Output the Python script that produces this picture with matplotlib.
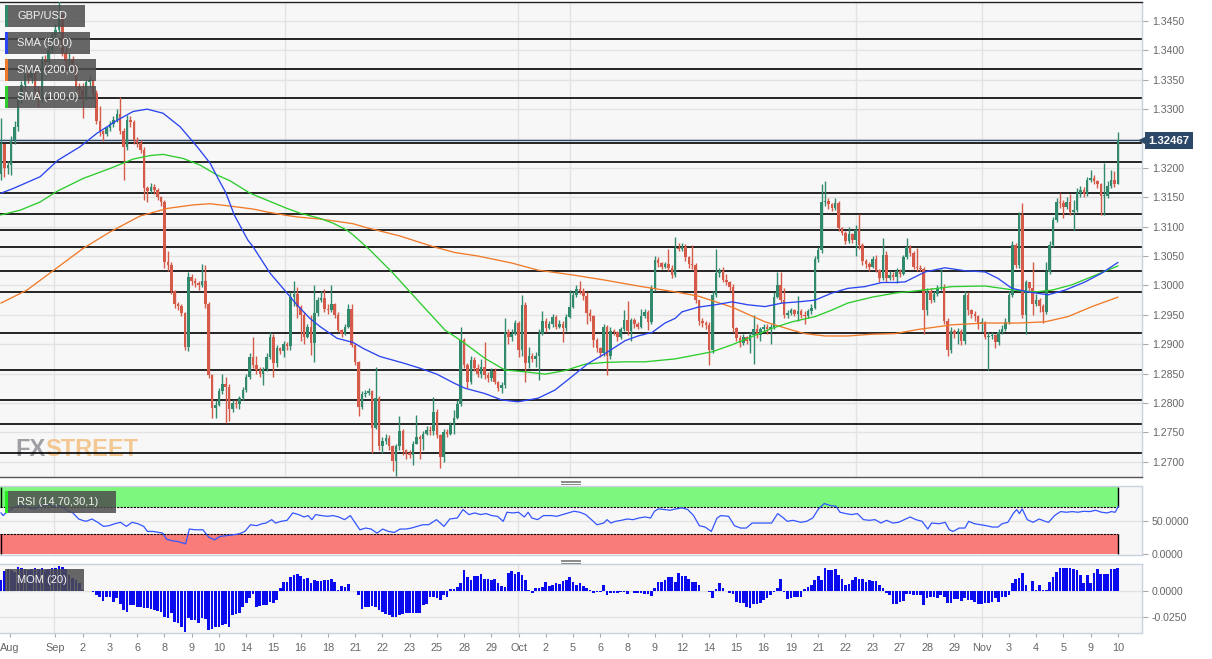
import matplotlib
matplotlib.use('Agg')
import matplotlib.pyplot as plt
import numpy as np
from matplotlib.patches import Rectangle
from matplotlib.lines import Line2D

plt.rcParams['font.family'] = ['Liberation Sans', 'DejaVu Sans']

# ---------------- data ----------------
first_open = 1.3190
closes = [1.3240, 1.3200, 1.3205, 1.3247, 1.3270, 1.3316, 1.3341, 1.3360, 1.3353, 1.3365,
          1.3330, 1.3318, 1.3384, 1.3380, 1.3400, 1.3426, 1.3435, 1.3460, 1.3396, 1.3382,
          1.3386, 1.3374, 1.3338, 1.3332, 1.3319, 1.3346, 1.3350, 1.3328, 1.3280, 1.3262,
          1.3258, 1.3268, 1.3275, 1.3282, 1.3292, 1.3262, 1.3235, 1.3282, 1.3278, 1.3248,
          1.3243, 1.3230, 1.3166, 1.3160, 1.3168, 1.3163, 1.3150, 1.3142, 1.3040, 1.3035,
          1.2990, 1.2968, 1.2965, 1.2953, 1.2896, 1.3015, 1.3008, 1.3004, 1.3000, 1.3008,
          1.2968, 1.2848, 1.2791, 1.2797, 1.2820, 1.2833, 1.2828, 1.2790, 1.2800, 1.2798,
          1.2808, 1.2822, 1.2845, 1.2878, 1.2865, 1.2856, 1.2850, 1.2858, 1.2878, 1.2912,
          1.2868, 1.2893, 1.2888, 1.2900, 1.2897, 1.2981, 1.2985, 1.2964, 1.2950, 1.2912,
          1.2930, 1.2902, 1.2953, 1.2975, 1.2978, 1.2960, 1.2958, 1.2968, 1.2950, 1.2924,
          1.2918, 1.2930, 1.2960, 1.2899, 1.2870, 1.2793, 1.2815, 1.2817, 1.2820, 1.2757,
          1.2808, 1.2726, 1.2736, 1.2740, 1.2726, 1.2702, 1.2726, 1.2752, 1.2720, 1.2715,
          1.2712, 1.2730, 1.2742, 1.2738, 1.2748, 1.2754, 1.2752, 1.2785, 1.2745, 1.2708,
          1.2750, 1.2748, 1.2762, 1.2775, 1.2798, 1.2907, 1.2865, 1.2836, 1.2873, 1.2860,
          1.2850, 1.2862, 1.2848, 1.2842, 1.2855, 1.2836, 1.2826, 1.2830, 1.2921, 1.2912,
          1.2918, 1.2936, 1.2890, 1.2967, 1.2868, 1.2880, 1.2875, 1.2880, 1.2918, 1.2940,
          1.2928, 1.2935, 1.2946, 1.2930, 1.2935, 1.2928, 1.2947, 1.2964, 1.2984, 1.2994,
          1.2990, 1.2982, 1.2953, 1.2948, 1.2907, 1.2893, 1.2885, 1.2929, 1.2880, 1.2922,
          1.2920, 1.2912, 1.2926, 1.2941, 1.2922, 1.2941, 1.2935, 1.2930, 1.2948, 1.2954,
          1.2937, 1.2995, 1.3043, 1.3038, 1.3032, 1.3036, 1.3030, 1.3018, 1.3064, 1.3062,
          1.3066, 1.3048, 1.3036, 1.3034, 1.2975, 1.2940, 1.2936, 1.2932, 1.2890, 1.2984,
          1.3021, 1.3025, 1.3010, 1.3005, 1.2998, 1.2928, 1.2910, 1.2902, 1.2912, 1.2905,
          1.2916, 1.2925, 1.2915, 1.2925, 1.2930, 1.2926, 1.2929, 1.2980, 1.3000, 1.2976,
          1.2950, 1.2953, 1.2958, 1.2952, 1.2957, 1.2950, 1.2948, 1.2956, 1.2962, 1.3045,
          1.3060, 1.3142, 1.3144, 1.3138, 1.3132, 1.3140, 1.3098, 1.3090, 1.3076, 1.3088,
          1.3078, 1.3094, 1.3069, 1.3042, 1.3036, 1.3032, 1.3045, 1.3026, 1.3013, 1.3052,
          1.3013, 1.3018, 1.3015, 1.3024, 1.3020, 1.3048, 1.3066, 1.3055, 1.3032, 1.3030,
          1.3028, 1.2958, 1.2990, 1.2975, 1.2985, 1.2995, 1.2998, 1.2940, 1.2890, 1.2922,
          1.2918, 1.2922, 1.2905, 1.2984, 1.2958, 1.2952, 1.2948, 1.2935, 1.2938, 1.2912,
          1.2914, 1.2915, 1.2903, 1.2920, 1.2926, 1.2938, 1.2984, 1.3069, 1.3035, 1.3120,
          1.2950, 1.3005, 1.2995, 1.2968, 1.2975, 1.2965, 1.2955, 1.3023, 1.3069, 1.3111,
          1.3142, 1.3140, 1.3134, 1.3142, 1.3125, 1.3128, 1.3158, 1.3162, 1.3155, 1.3180,
          1.3182, 1.3178, 1.3172, 1.3152, 1.3152, 1.3170, 1.3180, 1.3173, 1.32467]
highs = [1.3285, 1.3235, 1.3212, 1.3255, 1.3280, 1.3322, 1.3348, 1.3372, 1.3368, 1.3370,
         1.3368, 1.3340, 1.3390, 1.3392, 1.3410, 1.3432, 1.3445, 1.3484, 1.3462, 1.3405,
         1.3395, 1.3390, 1.3378, 1.3345, 1.3345, 1.3352, 1.3358, 1.3352, 1.3332, 1.3305,
         1.3265, 1.3272, 1.3280, 1.3288, 1.3300, 1.3320, 1.3268, 1.3290, 1.3288, 1.3282,
         1.3252, 1.3248, 1.3235, 1.3170, 1.3174, 1.3172, 1.3166, 1.3152, 1.3145, 1.3058,
         1.3040, 1.2992, 1.2972, 1.2968, 1.2955, 1.3022, 1.3020, 1.3012, 1.3008, 1.3036,
         1.3035, 1.2972, 1.2850, 1.2805, 1.2826, 1.2850, 1.2845, 1.2832, 1.2805, 1.2805,
         1.2812, 1.2828, 1.2850, 1.2885, 1.2912, 1.2880, 1.2862, 1.2862, 1.2885, 1.2921,
         1.2918, 1.2898, 1.2896, 1.2906, 1.2904, 1.2988, 1.3008, 1.2998, 1.2966, 1.2955,
         1.2935, 1.2950, 1.3001, 1.2980, 1.2990, 1.2994, 1.2968, 1.3001, 1.2970, 1.2955,
         1.2926, 1.2935, 1.2968, 1.2969, 1.2902, 1.2872, 1.2820, 1.2822, 1.2826, 1.2822,
         1.2862, 1.2812, 1.2742, 1.2748, 1.2745, 1.2728, 1.2730, 1.2777, 1.2756, 1.2722,
         1.2720, 1.2736, 1.2779, 1.2745, 1.2752, 1.2760, 1.2760, 1.2810, 1.2790, 1.2748,
         1.2755, 1.2755, 1.2768, 1.2788, 1.2805, 1.2930, 1.2910, 1.2868, 1.2880, 1.2878,
         1.2866, 1.2875, 1.2904, 1.2852, 1.2860, 1.2860, 1.2838, 1.2835, 1.2944, 1.2926,
         1.2925, 1.2942, 1.2940, 1.2984, 1.2972, 1.2895, 1.2885, 1.2886, 1.2925, 1.2956,
         1.2945, 1.2940, 1.2952, 1.2950, 1.2942, 1.2940, 1.2952, 1.2992, 1.2990, 1.3000,
         1.3008, 1.2995, 1.2988, 1.2960, 1.2950, 1.2910, 1.2895, 1.2935, 1.2932, 1.2930,
         1.2926, 1.2922, 1.2930, 1.2958, 1.2973, 1.2945, 1.2945, 1.2938, 1.2960, 1.2960,
         1.2958, 1.3000, 1.3050, 1.3048, 1.3040, 1.3040, 1.3062, 1.3035, 1.3083, 1.3072,
         1.3072, 1.3070, 1.3050, 1.3068, 1.3038, 1.2975, 1.2945, 1.2940, 1.2938, 1.2990,
         1.3062, 1.3030, 1.3032, 1.3020, 1.3008, 1.3002, 1.2930, 1.2915, 1.2918, 1.2914,
         1.2920, 1.2950, 1.2935, 1.2930, 1.2935, 1.2935, 1.2935, 1.2988, 1.3022, 1.3022,
         1.2995, 1.2958, 1.2962, 1.2960, 1.2982, 1.2960, 1.2956, 1.2960, 1.2968, 1.3050,
         1.3065, 1.3172, 1.3178, 1.3148, 1.3140, 1.3148, 1.3143, 1.3100, 1.3092, 1.3100,
         1.3090, 1.3102, 1.3122, 1.3072, 1.3045, 1.3040, 1.3050, 1.3052, 1.3028, 1.3080,
         1.3058, 1.3025, 1.3022, 1.3030, 1.3028, 1.3052, 1.3080, 1.3068, 1.3058, 1.3063,
         1.3035, 1.3032, 1.2995, 1.2995, 1.2990, 1.3000, 1.3028, 1.3002, 1.2945, 1.2930,
         1.2926, 1.2928, 1.2925, 1.2990, 1.2988, 1.2960, 1.2956, 1.2950, 1.2945, 1.2940,
         1.2920, 1.2920, 1.2918, 1.2926, 1.2932, 1.2945, 1.2990, 1.3075, 1.3072, 1.3125,
         1.3140, 1.3010, 1.3005, 1.3040, 1.2985, 1.2978, 1.2968, 1.3040, 1.3075, 1.3116,
         1.3148, 1.3158, 1.3145, 1.3150, 1.3155, 1.3145, 1.3165, 1.3170, 1.3168, 1.3185,
         1.3197, 1.3188, 1.3180, 1.3174, 1.3208, 1.3178, 1.3197, 1.3195, 1.3261]
lows = [1.3180, 1.3185, 1.3190, 1.3188, 1.3240, 1.3262, 1.3310, 1.3332, 1.3345, 1.3345,
        1.3322, 1.3304, 1.3312, 1.3370, 1.3375, 1.3395, 1.3420, 1.3430, 1.3390, 1.3370,
        1.3372, 1.3365, 1.3330, 1.3322, 1.3285, 1.3315, 1.3338, 1.3322, 1.3275, 1.3255,
        1.3245, 1.3255, 1.3262, 1.3270, 1.3278, 1.3258, 1.3180, 1.3230, 1.3270, 1.3240,
        1.3235, 1.3225, 1.3145, 1.3142, 1.3158, 1.3155, 1.3145, 1.3135, 1.3030, 1.3025,
        1.2985, 1.2962, 1.2958, 1.2948, 1.2890, 1.2888, 1.3000, 1.2998, 1.2992, 1.2998,
        1.2962, 1.2842, 1.2774, 1.2775, 1.2795, 1.2815, 1.2766, 1.2770, 1.2785, 1.2792,
        1.2790, 1.2805, 1.2818, 1.2840, 1.2860, 1.2850, 1.2845, 1.2831, 1.2855, 1.2875,
        1.2845, 1.2862, 1.2884, 1.2878, 1.2890, 1.2890, 1.2965, 1.2945, 1.2905, 1.2900,
        1.2910, 1.2881, 1.2870, 1.2948, 1.2972, 1.2955, 1.2952, 1.2955, 1.2945, 1.2920,
        1.2912, 1.2915, 1.2928, 1.2895, 1.2865, 1.2777, 1.2790, 1.2810, 1.2814, 1.2715,
        1.2755, 1.2720, 1.2715, 1.2730, 1.2720, 1.2685, 1.2676, 1.2720, 1.2712, 1.2705,
        1.2706, 1.2695, 1.2735, 1.2705, 1.2720, 1.2745, 1.2745, 1.2745, 1.2740, 1.2690,
        1.2700, 1.2742, 1.2745, 1.2748, 1.2772, 1.2795, 1.2860, 1.2825, 1.2832, 1.2855,
        1.2845, 1.2842, 1.2840, 1.2836, 1.2838, 1.2832, 1.2820, 1.2817, 1.2825, 1.2900,
        1.2905, 1.2915, 1.2878, 1.2880, 1.2835, 1.2860, 1.2870, 1.2862, 1.2839, 1.2915,
        1.2920, 1.2925, 1.2930, 1.2925, 1.2928, 1.2904, 1.2922, 1.2945, 1.2962, 1.2980,
        1.2985, 1.2975, 1.2935, 1.2940, 1.2895, 1.2886, 1.2878, 1.2880, 1.2848, 1.2875,
        1.2915, 1.2905, 1.2908, 1.2922, 1.2915, 1.2905, 1.2928, 1.2926, 1.2928, 1.2945,
        1.2924, 1.2935, 1.2990, 1.3032, 1.3028, 1.3030, 1.3025, 1.3012, 1.3015, 1.3058,
        1.3058, 1.3042, 1.3030, 1.3028, 1.2970, 1.2932, 1.2930, 1.2925, 1.2864, 1.2885,
        1.2980, 1.3015, 1.3005, 1.3000, 1.2990, 1.2920, 1.2905, 1.2895, 1.2898, 1.2900,
        1.2885, 1.2867, 1.2910, 1.2905, 1.2920, 1.2918, 1.2900, 1.2925, 1.2978, 1.2970,
        1.2945, 1.2945, 1.2950, 1.2948, 1.2940, 1.2945, 1.2935, 1.2945, 1.2952, 1.2960,
        1.3040, 1.3055, 1.3135, 1.3130, 1.3126, 1.3128, 1.3092, 1.3085, 1.3070, 1.3072,
        1.3072, 1.3050, 1.3062, 1.3035, 1.3030, 1.3025, 1.3030, 1.3022, 1.3005, 1.3010,
        1.3005, 1.3010, 1.3010, 1.3004, 1.3015, 1.3018, 1.3045, 1.3050, 1.3028, 1.3025,
        1.3024, 1.2918, 1.2950, 1.2970, 1.2972, 1.2982, 1.2992, 1.2935, 1.2880, 1.2885,
        1.2910, 1.2900, 1.2898, 1.2900, 1.2950, 1.2945, 1.2940, 1.2925, 1.2920, 1.2908,
        1.2856, 1.2908, 1.2893, 1.2898, 1.2918, 1.2922, 1.2935, 1.2980, 1.3030, 1.3030,
        1.2945, 1.2918, 1.2988, 1.2950, 1.2965, 1.2955, 1.2936, 1.2952, 1.3020, 1.3065,
        1.3108, 1.3132, 1.3115, 1.3130, 1.3120, 1.3094, 1.3125, 1.3150, 1.3150, 1.3152,
        1.3176, 1.3172, 1.3165, 1.3120, 1.3120, 1.3148, 1.3165, 1.3168, 1.3172]

mom = [0.0110, 0.0200, 0.0217, 0.0210, 0.0194, 0.0236, 0.0226, 0.0217, 0.0210, 0.0217,
       0.0226, 0.0217, 0.0226, 0.0210, 0.0217, 0.0226, 0.0226, 0.0249, 0.0236, 0.0217,
       0.0161, 0.0128, 0.0112, 0.0079, 0.0013, 0.0002, 0.0000, -0.0003, -0.0035, -0.0060,
       -0.0092, -0.0052, -0.0060, -0.0105, -0.0069, -0.0125, -0.0184, -0.0200, -0.0138, -0.0135,
       -0.0151, -0.0151, -0.0164, -0.0167, -0.0177, -0.0184, -0.0190, -0.0200, -0.0249, -0.0266,
       -0.0217, -0.0299, -0.0315, -0.0348, -0.0397, -0.0266, -0.0282, -0.0282, -0.0308, -0.0266,
       -0.0276, -0.0380, -0.0374, -0.0348, -0.0348, -0.0331, -0.0322, -0.0348, -0.0233, -0.0223,
       -0.0217, -0.0151, -0.0112, -0.0069, -0.0026, -0.0157, -0.0144, -0.0138, -0.0131, -0.0102,
       -0.0118, -0.0085, 0.0030, 0.0095, 0.0095, 0.0144, 0.0161, 0.0171, 0.0151, 0.0118,
       0.0128, 0.0085, 0.0112, 0.0105, 0.0105, 0.0112, 0.0112, 0.0118, 0.0095, 0.0013,
       0.0052, 0.0046, 0.0072, 0.0000, 0.0000, -0.0036, -0.0177, -0.0151, -0.0157, -0.0144,
       -0.0157, -0.0184, -0.0200, -0.0223, -0.0233, -0.0256, -0.0249, -0.0233, -0.0223, -0.0217,
       -0.0210, -0.0210, -0.0210, -0.0217, -0.0135, -0.0125, -0.0052, -0.0060, -0.0069, -0.0085,
       -0.0036, -0.0060, 0.0026, 0.0026, 0.0039, 0.0079, 0.0210, 0.0144, 0.0112, 0.0151,
       0.0151, 0.0171, 0.0118, 0.0118, 0.0112, 0.0118, 0.0079, 0.0052, 0.0046, 0.0184,
       0.0203, 0.0171, 0.0194, 0.0161, 0.0112, 0.0013, -0.0020, 0.0030, 0.0030, 0.0046,
       0.0095, 0.0052, 0.0062, 0.0079, 0.0072, 0.0105, 0.0112, 0.0138, 0.0095, 0.0062,
       0.0079, 0.0052, 0.0030, 0.0013, -0.0020, -0.0007, -0.0003, 0.0062, -0.0036, -0.0020,
       -0.0013, -0.0013, -0.0010, -0.0007, -0.0030, 0.0007, -0.0013, -0.0020, -0.0020, -0.0026,
       -0.0030, -0.0046, 0.0030, 0.0089, 0.0089, 0.0112, 0.0144, 0.0144, 0.0095, 0.0184,
       0.0151, 0.0151, 0.0118, 0.0095, 0.0092, 0.0062, 0.0000, 0.0000, -0.0007, -0.0069,
       0.0020, 0.0079, 0.0030, 0.0000, -0.0020, -0.0026, -0.0102, -0.0112, -0.0118, -0.0151,
       -0.0167, -0.0128, -0.0125, -0.0112, -0.0085, -0.0069, -0.0036, -0.0007, 0.0030, 0.0121,
       -0.0003, -0.0079, -0.0069, -0.0060, -0.0060, -0.0060, 0.0020, 0.0046, 0.0062, 0.0112,
       0.0151, 0.0112, 0.0226, 0.0210, 0.0210, 0.0217, 0.0161, 0.0118, 0.0062, 0.0072,
       0.0112, 0.0138, 0.0118, 0.0118, 0.0095, 0.0112, 0.0102, 0.0102, 0.0062, 0.0030,
       -0.0013, -0.0036, -0.0125, -0.0125, -0.0102, -0.0092, -0.0026, -0.0026, -0.0036, -0.0036,
       -0.0036, -0.0135, -0.0069, -0.0060, -0.0052, -0.0069, -0.0036, -0.0052, -0.0118, -0.0112,
       -0.0079, -0.0079, -0.0092, -0.0069, -0.0085, -0.0085, -0.0102, -0.0125, -0.0125, -0.0112,
       -0.0118, -0.0102, -0.0069, -0.0102, -0.0060, -0.0060, -0.0036, 0.0079, 0.0118, 0.0128,
       0.0184, 0.0062, 0.0007, 0.0105, 0.0013, 0.0062, 0.0013, 0.0013, 0.0095, 0.0144,
       0.0194, 0.0226, 0.0226, 0.0226, 0.0226, 0.0217, 0.0210, 0.0161, 0.0079, 0.0161,
       0.0079, 0.0177, 0.0217, 0.0171, 0.0171, 0.0171, 0.0217, 0.0217, 0.0226]

rsi_idx = [0, 0.6, 1.4, 2.5, 4.2, 5.9, 7.6, 8.7, 10.4, 11, 12.6, 14.3, 15.4, 16.6, 17.7,
           19.4, 21.1, 22.8, 23.9, 25, 26.7, 28.4, 30.1, 31.7, 33.4, 35.1, 36.8, 38.5, 40.2,
           41.9, 43, 44.7, 46.4, 47.5, 48.6, 50.3, 52, 54.2, 55.3, 57, 59.3, 61, 62.7, 64.3,
           66, 68.3, 70, 71.6, 73.3, 75, 76.7, 77.8, 79.5, 80.6, 82.3, 84, 85.7, 87.4, 89,
           90.2, 91.3, 92.4, 94.1, 95.8, 97.5, 99.2, 100.9, 102.6, 103.7, 105.4, 107.1, 108.7,
           110.4, 112.1, 113.8, 115.5, 117.2, 118.9, 120.5, 122.2, 123.9, 125.6, 126.7, 127.9,
           129, 130.1, 131.8, 134, 135.7, 137.4, 139.1, 140.8, 142.5, 144.1, 145.8, 147.5,
           148.6, 150.3, 152, 153.7, 154.8, 155.9, 157.6, 159.3, 161.6, 163.2, 164.9, 166.6,
           168.3, 170, 171.7, 173.4, 175,
           177, 178, 179.1, 180.5, 182.2, 183.9, 185.6, 187.4, 189.1, 190.8, 191.9, 193.1,
           194.8, 196.5, 198.3, 200, 201.7, 203.4, 205.1, 206.8, 208.6, 210.3, 211.4, 213.7,
           215.4, 217.2, 218.9, 220.6, 222.3, 224, 226.3, 228.1, 229.8, 230.9, 232.6, 234.9,
           236.6, 238.4, 240.1, 241.8, 243.5, 245.2, 246.4, 248.1, 249.8, 251.5, 253.3, 255,
           256.7, 258.4, 260.1, 261.9, 263.6, 265.3, 267, 268.7, 270.5, 272.2, 273.3, 275.6,
           277.3, 278.5, 279.6, 281.4, 283.1, 284.2, 285.9, 287.7, 289.4, 291.1, 292.8, 294,
           295.7, 297.4, 298.3, 299.1, 299.9, 301.4, 303.1, 304.9, 306.6, 307.7, 309.4, 311.2,
           312.9, 314.6, 316.3, 318, 319.8, 321.5, 323.2, 324.9, 326.1, 327.2, 328.1]
rsi_val = [61.6, 57.6, 61.6, 65.6, 70.7, 72.7, 71.7, 67.7, 67.7, 72.7, 71.7, 74.2, 70.7, 72.7, 71.7,
           65.1, 61.6, 52.5, 50.5, 49.0, 52.5, 47.5, 41.4, 42.4, 45.4, 47.5, 41.4, 47.5, 45.4,
           41.4, 33.8, 33.8, 32.3, 31.3, 22.2, 19.7, 18.7, 15.1, 37.4, 36.3, 36.3, 25.2, 21.2, 26.3,
           27.3, 28.8, 30.3, 33.8, 43.9, 42.4, 45.4, 46.4, 51.5, 46.4, 49.0, 50.5, 61.6, 59.1, 55.5,
           57.6, 51.5, 59.1, 57.6, 56.5, 57.6, 55.5, 51.5, 57.6, 49.0, 36.3, 38.9, 37.4,
           31.3, 37.4, 33.8, 32.3, 37.4, 37.4, 38.9, 41.4, 43.9, 43.9, 47.5, 51.5,
           46.4, 41.4, 52.5, 54.0, 66.6, 59.1, 61.6, 59.1, 60.6, 57.6, 56.5, 49.0,
           62.6, 61.6, 62.6, 55.5, 62.6, 54.0, 51.5, 57.6, 57.6, 56.5, 59.1, 61.6,
           64.1, 62.6, 59.1, 51.5, 43.9,
           46.4, 51.5, 46.4, 49.0, 50.5, 52.5, 51.5, 54.0, 55.5, 54.0, 64.1, 67.7,
           66.6, 65.6, 67.7, 69.2, 66.6, 57.6, 42.4, 40.4, 33.8, 54.0, 57.6, 56.5,
           42.4, 38.9, 38.9, 46.4, 46.4, 46.4, 46.4, 60.6, 54.0, 49.0, 50.5, 47.5,
           49.0, 54.0, 67.7, 75.7, 72.7, 71.7, 62.6, 60.6, 59.1, 60.6, 51.5, 50.5,
           51.5, 46.4, 50.5, 46.4, 47.5, 51.5, 55.5, 51.5, 49.0, 37.4, 46.4, 45.4,
           47.5, 36.3, 33.8, 38.9, 38.9, 49.0, 45.4, 43.9, 42.4, 40.4, 40.4, 45.4,
           47.5, 61.6, 66.6, 60.6, 67.7, 51.5, 47.5, 52.5, 49.0, 47.5, 57.6, 63.6,
           62.6, 63.6, 62.6, 64.1, 63.6, 65.6, 62.6, 61.6, 63.6, 62.6, 70.7]

sma50_idx = [0, 3.6, 11.5, 16.7, 23.2, 28.2, 34.1, 38.8, 42.9, 47.6, 52.6, 57.6, 61.4, 64.3, 66,
             68.5, 72.5, 74, 79, 84, 86.9, 90.7, 93.7, 98.7, 103.4, 106.3, 111.3, 118.1, 123.1,
             128, 133.3, 136.3, 142.1, 147.1, 151.8, 157.7, 162.7, 167.7, 172.4, 177.4, 183.3,
             187.1, 191.2, 195, 198, 200, 204.7, 209.7, 214.7, 219.4, 224.4, 229.4, 234.1, 239.1,
             244, 248.7, 253.7, 258.7, 262.6, 265.5, 271.4, 277.2, 283.1, 289, 292.8, 296.9,
             301.6, 307.5, 312.5, 318.4, 323.3, 328]
sma50_val = [1.3157, 1.3165, 1.3185, 1.3213, 1.3236, 1.3259, 1.3281, 1.3296, 1.3300, 1.3293,
             1.3270, 1.3236, 1.3208, 1.3176, 1.3158, 1.3120, 1.3077, 1.3066, 1.3021, 1.2987,
             1.2967, 1.2944, 1.2930, 1.2910, 1.2903, 1.2893, 1.2879, 1.2868, 1.2859, 1.2849,
             1.2833, 1.2825, 1.2816, 1.2805, 1.2802, 1.2808, 1.2822, 1.2845, 1.2867, 1.2884,
             1.2906, 1.2914, 1.2920, 1.2936, 1.2944, 1.2955, 1.2963, 1.2967, 1.2972, 1.2967,
             1.2964, 1.2970, 1.2972, 1.2975, 1.2987, 1.2995, 1.2998, 1.3005, 1.3005, 1.3006,
             1.3023, 1.3030, 1.3025, 1.3023, 1.3012, 1.2995, 1.2989, 1.2984, 1.2992, 1.3006,
             1.3021, 1.3039]
sma100_idx = [0, 5.6, 11.5, 16.4, 24.1, 32, 38.8, 43.8, 47.6, 53.5, 58.4, 63.4, 67.3, 73.1, 84,
              87.8, 93.7, 97.5, 101.6, 103.4, 108.4, 115.1, 123.1, 130.4, 133.3, 136.3, 142.1,
              148, 153.9, 159.8, 165.6, 171.5, 177.4, 183.3, 189.1, 198, 208.8, 214.7, 220.6,
              226.4, 232.3, 239.1, 244, 248.7, 255.8, 262.6, 269.3, 279.3, 289, 294, 298.7,
              303.7, 308.7, 314.5, 320.4, 328]
sma100_val = [1.3120, 1.3128, 1.3142, 1.3160, 1.3182, 1.3199, 1.3215, 1.3221, 1.3223, 1.3216,
              1.3205, 1.3188, 1.3178, 1.3157, 1.3131, 1.3123, 1.3114, 1.3106, 1.3094, 1.3086,
              1.3060, 1.3021, 1.2970, 1.2924, 1.2913, 1.2901, 1.2876, 1.2856, 1.2853, 1.2849,
              1.2855, 1.2866, 1.2869, 1.2870, 1.2870, 1.2875, 1.2887, 1.2899, 1.2913, 1.2927,
              1.2938, 1.2947, 1.2958, 1.2970, 1.2980, 1.2987, 1.2991, 1.2998, 1.2999, 1.2995,
              1.2991, 1.2989, 1.2992, 1.3001, 1.3015, 1.3033]
sma200_idx = [0, 7.6, 15.3, 24.1, 32, 40.8, 48.8, 56.4, 61.4, 67.3, 74, 78.1, 84, 87.8, 93.7,
              97.5, 103.4, 107.5, 110.4, 117.2, 126.9, 133.3, 140.1, 150.1, 157.7, 167.7, 177.4,
              187.1, 198, 204.7, 214.7, 224.4, 232.3, 236.1, 242, 248.7, 255.8, 262.6, 269.3,
              279.3, 289, 298.7, 306.6, 313.4, 320.4, 328]
sma200_val = [1.2970, 1.2992, 1.3025, 1.3063, 1.3091, 1.3118, 1.3131, 1.3137, 1.3139, 1.3135,
              1.3130, 1.3125, 1.3119, 1.3116, 1.3113, 1.3110, 1.3105, 1.3098, 1.3094, 1.3084,
              1.3066, 1.3056, 1.3050, 1.3038, 1.3026, 1.3018, 1.3009, 1.2999, 1.2989, 1.2982,
              1.2963, 1.2938, 1.2924, 1.2918, 1.2914, 1.2914, 1.2917, 1.2918, 1.2925, 1.2933,
              1.2936, 1.2936, 1.2938, 1.2947, 1.2964, 1.2980]

level_lines = [1.3419, 1.3368, 1.3319, 1.3242, 1.3210, 1.3158, 1.3121, 1.3094, 1.3065,
               1.3024, 1.2988, 1.2919, 1.2856, 1.2805, 1.2765, 1.2715]
last_price = 1.32467
price_ticks = [1.2700, 1.2750, 1.2800, 1.2850, 1.2900, 1.2950, 1.3000, 1.3050, 1.3100,
               1.3150, 1.3200, 1.3250, 1.3300, 1.3350, 1.3400, 1.3450]
hidden_tick = 1.3250   # covered by the last-price tag in the reference
x_labels = ['Aug', 'Sep', '2', '3', '6', '8', '9', '10', '14', '15', '16', '18', '21', '22',
            '23', '25', '28', '29', 'Oct', '2', '5', '6', '8', '9', '12', '14', '15', '16',
            '19', '21', '22', '23', '27', '28', '29', 'Nov', '3', '4', '5', '9', '10']
legend_names = ['GBP/USD', 'SMA (50,0)', 'SMA (200,0)', 'SMA (100,0)']

# ---------------- style ----------------
W, H = 1212, 659
BULL, BEAR = '#318a6e', '#d65a4a'
C50, C100, C200 = '#2a45f0', '#2ccc2c', '#f07a28'
BG = '#f7f7f7'
GRID = '#e3e3e3'
SPINE = '#c9d0de'
TXT = '#666666'

fig = plt.figure(figsize=(W / 100, H / 100), dpi=100)
fig.patch.set_facecolor('white')


def fr(x0, y0, x1, y1):
    return [x0 / W, 1 - y1 / H, (x1 - x0) / W, (y1 - y0) / H]


ax = fig.add_axes(fr(0, 2, 1142, 477))
ax_rsi = fig.add_axes(fr(0, 486, 1142, 555.3))
ax_mom = fig.add_axes(fr(0, 564.3, 1142, 633.3))

n = len(closes)
idx = np.arange(n)
XL = (-0.3, 335.1)
month_idx = [15.6, 151.8, 288.1]
extra_idx = [83.4, 167.1, 251.1]

for a in (ax, ax_rsi, ax_mom):
    a.set_facecolor(BG)
    a.set_xlim(*XL)
    for s in a.spines.values():
        s.set_color(SPINE)
        s.set_linewidth(1)
    a.spines['left'].set_visible(False)
    for m in month_idx:
        a.axvline(m, color=GRID, lw=1, zorder=0)

# ---- main price panel ----
ax.set_ylim(1.26740, 1.34823)
for m in extra_idx:
    ax.axvline(m, color=GRID, lw=1, zorder=0)
for p in price_ticks:
    ax.axhline(p, color=GRID, lw=1, zorder=0)

opens = np.array([first_open] + closes[:-1])
cl = np.array(closes)
hi = np.maximum(np.array(highs), np.maximum(opens, cl))
lo = np.minimum(np.array(lows), np.minimum(opens, cl))
up = cl >= opens
cols = np.where(up, BULL, BEAR)
ax.vlines(idx, lo, hi, colors=cols, lw=1, zorder=3)
body_bottom = np.minimum(opens, cl)
body_h = np.maximum(np.abs(cl - opens), 0.00012)
ax.bar(idx, body_h, bottom=body_bottom, width=0.74, color=cols, zorder=4, linewidth=0)

ax.plot(sma200_idx, sma200_val, color=C200, lw=0.95, zorder=5)
ax.plot(sma100_idx, sma100_val, color=C100, lw=0.95, zorder=5)
ax.plot(sma50_idx, sma50_val, color=C50, lw=0.95, zorder=5)

for p in level_lines:
    ax.axhline(p, color='black', lw=1.2, zorder=2)
ax.axhline(last_price, color='#2d4a6d', lw=1.0, zorder=2)

ax.spines['top'].set_color('#222222')
ax.spines['bottom'].set_color('#555555')
ax.set_xticks([])
ax.yaxis.tick_right()
ax.set_yticks(price_ticks)
ax.set_yticklabels(['' if p == hidden_tick else '%.4f' % p for p in price_ticks])
ax.tick_params(axis='y', length=4, color='#aaaaaa', labelsize=7.6, labelcolor=TXT, pad=3)

# watermark
wm = ax.text(0.0131, 0.045, 'FX', transform=ax.transAxes, fontsize=17, fontweight='bold',
             color='#8f8f96', alpha=0.85, zorder=1, va='baseline')
ax.annotate('STREET', xy=(1, 0), xycoords=wm, fontsize=17, fontweight='bold',
            color='#f3bf80', alpha=0.85, zorder=1, va='bottom', ha='left')

# current price label
ax.plot([1.0], [last_price], marker='<', ms=5, color='#2c4868',
        transform=ax.get_yaxis_transform(), clip_on=False, zorder=10)
fig.text(1169 / W, 1 - 140.7 / H, '%.5f' % last_price, ha='center', va='center', color='white',
         fontsize=8.2, fontweight='bold', zorder=10,
         bbox=dict(boxstyle='square,pad=0.32', fc='#2c4868', ec='none'))

# ---- RSI panel ----
ax_rsi.set_ylim(-2, 102)
ax_rsi.axhline(50, color=GRID, lw=1, zorder=0)
last_i = n - 1
ax_rsi.fill_between([XL[0], last_i], 70, 100, color='#7df77d', zorder=1, lw=0)
ax_rsi.fill_between([XL[0], last_i], 0, 30, color='#f97c79', zorder=1, lw=0)
ax_rsi.hlines([70, 30], XL[0], last_i, colors='black', linestyles=(0, (2, 1)), lw=0.8, zorder=2)
ax_rsi.vlines([XL[0] + 0.2, last_i], 70, 100, colors='black', lw=1, zorder=2)
ax_rsi.vlines([XL[0] + 0.2, last_i], 0, 30, colors='black', lw=1, zorder=2)
ax_rsi.plot(rsi_idx, rsi_val, color='#3355ff', lw=0.9, zorder=3)
ax_rsi.set_xticks([])
ax_rsi.yaxis.tick_right()
ax_rsi.set_yticks([50, 0])
ax_rsi.set_yticklabels(['50.0000', '0.0000'])
ax_rsi.tick_params(axis='y', length=4, color='#aaaaaa', labelsize=7.6, labelcolor=TXT, pad=3)

# ---- MOM panel ----
ax_mom.set_ylim(-0.04134, 0.02657)
ax_mom.axhline(0, color=GRID, lw=1, zorder=0)
ax_mom.axhline(-0.025, color=GRID, lw=1, zorder=0)
ax_mom.bar(idx, mom, width=0.78, color='#0a0aee', zorder=2, linewidth=0)
ax_mom.yaxis.tick_right()
ax_mom.set_yticks([0, -0.025])
ax_mom.set_yticklabels(['0.0000', '-0.0250'])
ax_mom.tick_params(axis='y', length=4, color='#aaaaaa', labelsize=7.6, labelcolor=TXT, pad=3)
label_pos = [2.7] + list(range(16, n, 8))
ax_mom.set_xticks(label_pos)
ax_mom.set_xticklabels(x_labels)
ax_mom.tick_params(axis='x', length=3, color='#aaaaaa', labelsize=7.8, labelcolor=TXT, pad=4)

# ---- legend boxes (figure pixel layout) ----
def add_box(x0, y0, x1, y1, bar_color, text):
    fig.add_artist(Rectangle((x0 / W, 1 - y1 / H), (x1 - x0) / W, (y1 - y0) / H,
                             transform=fig.transFigure, fc='#4d4d4d', ec='none', alpha=0.85,
                             zorder=6))
    if bar_color is not None:
        fig.add_artist(Rectangle((x0 / W, 1 - y1 / H), 3 / W, (y1 - y0) / H,
                                 transform=fig.transFigure, fc=bar_color, ec='none', zorder=7))
    fig.text((x0 + 12) / W, 1 - (y0 + y1) / 2 / H, text, color='#f2f2f2', fontsize=8,
             va='center', ha='left', zorder=8)


legend_geo = [(5, 5, 85, 27, BULL), (5, 32, 90, 54, C50), (5, 59, 96, 81, C200),
              (5, 86, 96, 108, C100)]
for (x0, y0, x1, y1, c), name in zip(legend_geo, legend_names):
    add_box(x0, y0, x1, y1, c, name)
add_box(5, 491, 116, 513, '#22ee22', 'RSI (14,70,30,1)')
add_box(5, 569, 84, 591, None, 'MOM (20)')

# panel separators
for yy in (480.5, 559.5):
    for k in range(3):
        fig.add_artist(Line2D([561 / W, 580 / W], [1 - (yy + k * 1.6) / H] * 2,
                              transform=fig.transFigure, color='#8a8a8a', lw=0.7))

fig.savefig('out.png', dpi=100, facecolor='white')
